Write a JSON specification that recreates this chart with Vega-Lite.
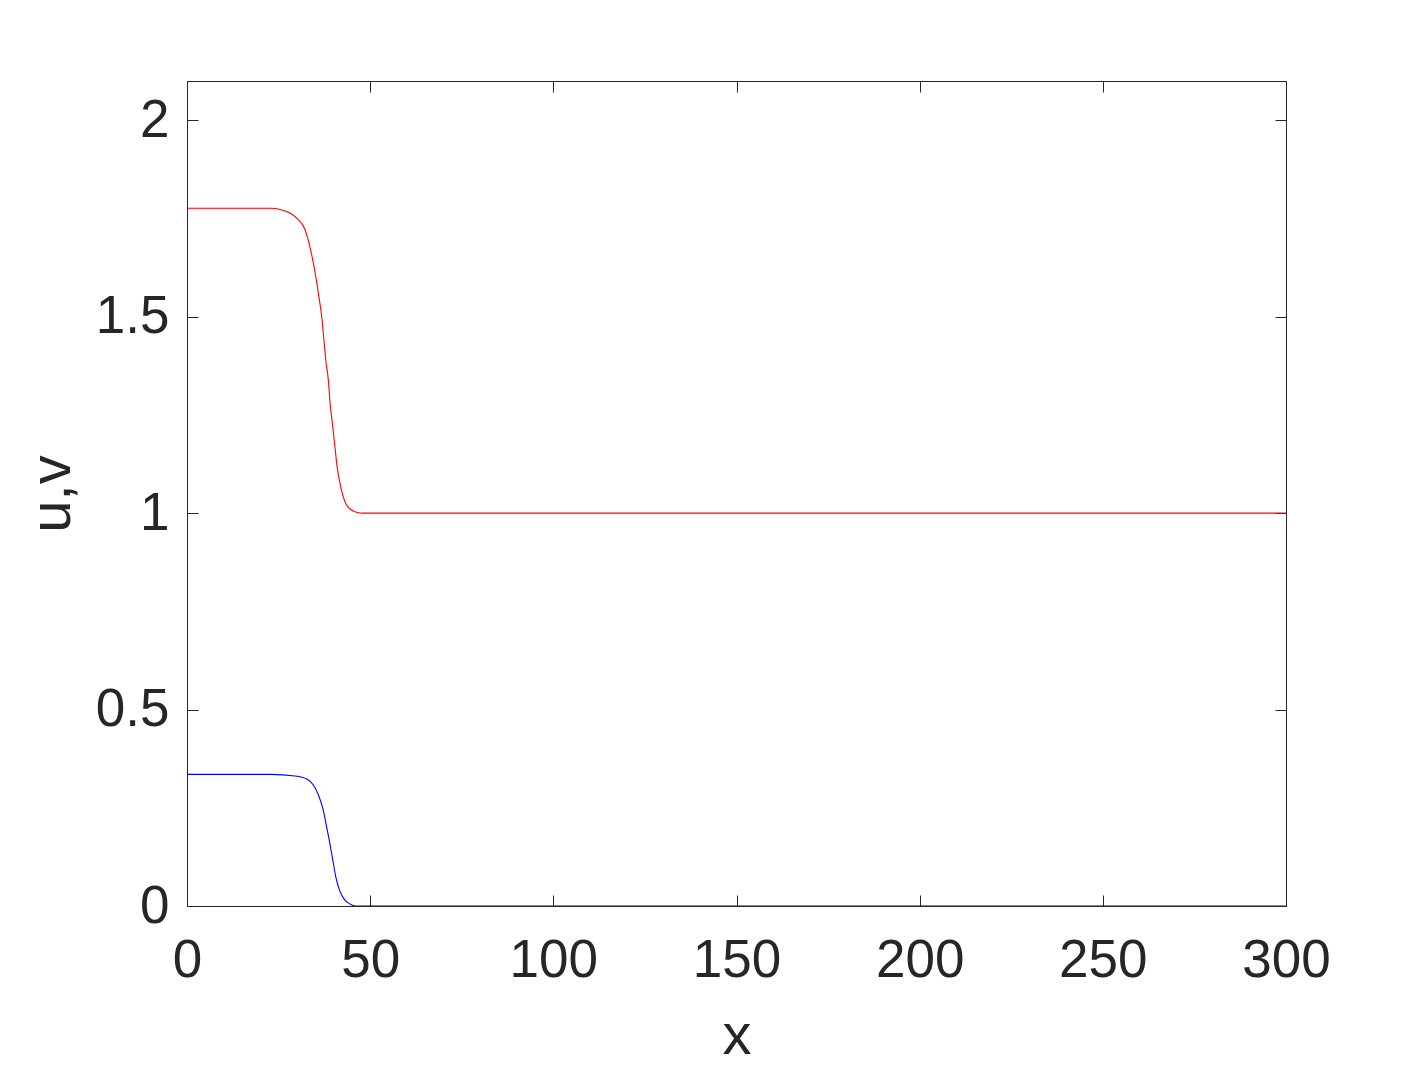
{
  "$schema": "https://vega.github.io/schema/vega-lite/v6.json",
  "width": 1099,
  "height": 825,
  "autosize": {"type": "none"},
  "padding": {"left": 187, "top": 81, "right": 137, "bottom": 161},
  "background": "white",
  "config": {
    "view": {"stroke": null},
    "font": "Liberation Sans",
    "axis": {
      "grid": false,
      "domainColor": "#262626",
      "domainWidth": 1,
      "tickColor": "#262626",
      "tickWidth": 1,
      "tickSize": -11,
      "labelFlush": false,
      "labelOverlap": false,
      "labelColor": "#262626",
      "labelFont": "Liberation Sans",
      "labelFontSize": 53,
      "titleColor": "#262626",
      "titleFont": "Liberation Sans",
      "titleFontSize": 58,
      "titleFontWeight": "normal"
    }
  },
  "data": {
    "values": [
      {"x": 0, "value": 1.776, "series": "u"},
      {"x": 23, "value": 1.776, "series": "u"},
      {"x": 25.4, "value": 1.773, "series": "u"},
      {"x": 28.1, "value": 1.764, "series": "u"},
      {"x": 30.4, "value": 1.747, "series": "u"},
      {"x": 32.2, "value": 1.722, "series": "u"},
      {"x": 33.6, "value": 1.676, "series": "u"},
      {"x": 34.9, "value": 1.616, "series": "u"},
      {"x": 35.9, "value": 1.557, "series": "u"},
      {"x": 36.8, "value": 1.498, "series": "u"},
      {"x": 37.4, "value": 1.438, "series": "u"},
      {"x": 37.9, "value": 1.388, "series": "u"},
      {"x": 38.6, "value": 1.337, "series": "u"},
      {"x": 39.0, "value": 1.286, "series": "u"},
      {"x": 39.7, "value": 1.227, "series": "u"},
      {"x": 40.4, "value": 1.167, "series": "u"},
      {"x": 41.0, "value": 1.116, "series": "u"},
      {"x": 41.8, "value": 1.074, "series": "u"},
      {"x": 42.7, "value": 1.040, "series": "u"},
      {"x": 44.0, "value": 1.015, "series": "u"},
      {"x": 46.8, "value": 1.001, "series": "u"},
      {"x": 48, "value": 1.0, "series": "u"},
      {"x": 300, "value": 1.0, "series": "u"},
      {"x": 0, "value": 0.335, "series": "v"},
      {"x": 23, "value": 0.335, "series": "v"},
      {"x": 29.5, "value": 0.331, "series": "v"},
      {"x": 32.7, "value": 0.323, "series": "v"},
      {"x": 34.5, "value": 0.308, "series": "v"},
      {"x": 35.9, "value": 0.282, "series": "v"},
      {"x": 37.2, "value": 0.244, "series": "v"},
      {"x": 38.1, "value": 0.202, "series": "v"},
      {"x": 39.0, "value": 0.159, "series": "v"},
      {"x": 39.8, "value": 0.117, "series": "v"},
      {"x": 40.6, "value": 0.075, "series": "v"},
      {"x": 41.6, "value": 0.041, "series": "v"},
      {"x": 42.7, "value": 0.020, "series": "v"},
      {"x": 44.5, "value": 0.005, "series": "v"},
      {"x": 46, "value": 0.0, "series": "v"},
      {"x": 300, "value": 0.0, "series": "v"}
    ]
  },
  "layer": [
    {
      "mark": {"type": "line", "strokeWidth": 1.1, "interpolate": "monotone", "clip": true},
      "encoding": {
        "x": {
          "field": "x", "type": "quantitative",
          "scale": {"domain": [0, 300], "nice": false, "zero": false},
          "axis": {"orient": "bottom", "values": [0, 50, 100, 150, 200, 250, 300], "labelPadding": 39,
                   "title": "x", "titleBaseline": "alphabetic", "titleY": 147}
        },
        "y": {
          "field": "value", "type": "quantitative",
          "scale": {"domain": [0, 2.1], "nice": false},
          "axis": {"orient": "left", "values": [0, 0.5, 1, 1.5, 2], "labelExpr": "datum.value", "labelPadding": 29,
                   "title": "u,v", "titleBaseline": "alphabetic", "titleX": -118}
        },
        "color": {
          "field": "series", "type": "nominal",
          "scale": {"domain": ["u", "v"], "range": ["#ff0000", "#0000ff"]},
          "legend": null
        }
      }
    },
    {
      "mark": {"type": "line", "strokeOpacity": 0},
      "encoding": {
        "x": {
          "field": "x", "type": "quantitative",
          "scale": {"domain": [0, 300], "nice": false, "zero": false},
          "axis": {"orient": "top", "values": [0, 50, 100, 150, 200, 250, 300], "labels": false, "title": null}
        },
        "y": {
          "field": "value", "type": "quantitative",
          "scale": {"domain": [0, 2.1], "nice": false},
          "axis": {"orient": "right", "values": [0, 0.5, 1, 1.5, 2], "labels": false, "title": null}
        },
        "detail": {"field": "series"}
      }
    }
  ],
  "resolve": {"axis": {"x": "independent", "y": "independent"}}
}
